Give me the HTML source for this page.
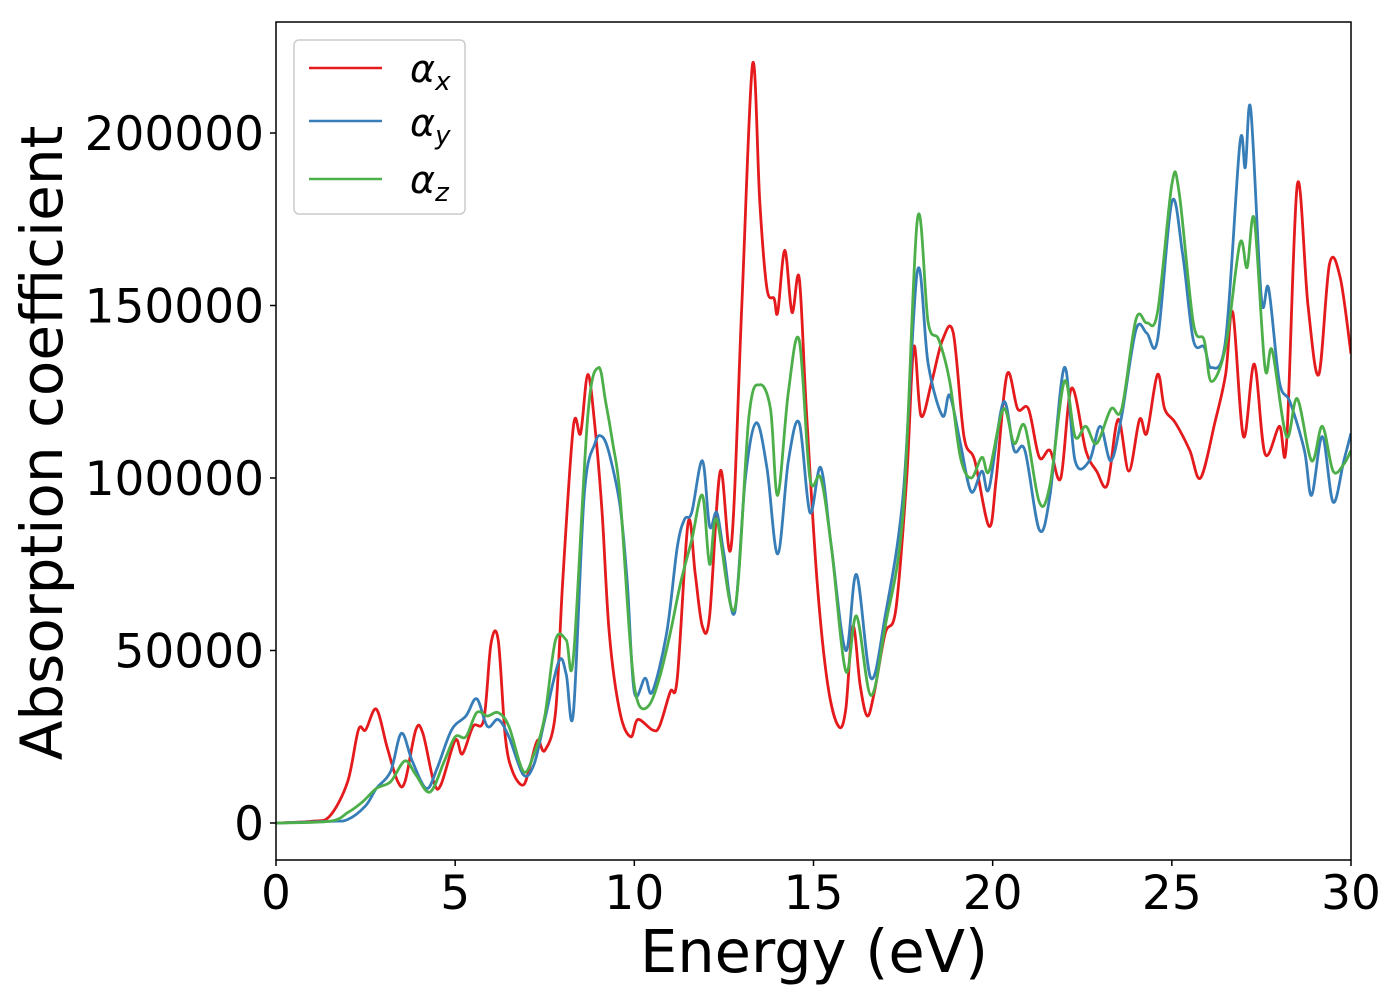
<!DOCTYPE html>
<html><head><meta charset="utf-8"><style>
html,body{margin:0;padding:0;background:#fff;}
svg text{font-family:"DejaVu Sans","Liberation Sans",sans-serif;}
</style></head><body>
<svg id="chart" width="1400" height="1000" xmlns="http://www.w3.org/2000/svg">
<rect width="1400" height="1000" fill="#fff"/>
<defs><clipPath id="clip"><rect x="276" y="22" width="1075" height="838"/></clipPath></defs>
<g id="series" clip-path="url(#clip)"></g>
<rect x="276" y="22" width="1075" height="838" fill="none" stroke="#000" stroke-width="1.5"/>
<g id="xticks"></g><g id="yticks"></g>
<text x="814" y="972" font-size="59" text-anchor="middle">Energy (eV)</text>
<text transform="translate(62,443) rotate(-90)" font-size="58" text-anchor="middle">Absorption coefficient</text>
<g>
<rect x="294" y="40" width="171" height="174" rx="5" fill="#fff" stroke="#ccc" stroke-width="1.5"/>
<line x1="309" y1="68" x2="382" y2="68" stroke="#e41a1c" stroke-width="2.5"/>
<line x1="309" y1="121" x2="382" y2="121" stroke="#377eb8" stroke-width="2.5"/>
<line x1="309" y1="179" x2="382" y2="179" stroke="#4daf4a" stroke-width="2.5"/>
<text x="410" y="82" font-size="38" font-style="italic">α<tspan font-size="26" dy="8">x</tspan></text>
<text x="410" y="136" font-size="38" font-style="italic">α<tspan font-size="26" dy="8">y</tspan></text>
<text x="410" y="193" font-size="38" font-style="italic">α<tspan font-size="26" dy="8">z</tspan></text>
</g>
</svg>
<script>
const xTickLabels=["0","5","10","15","20","25","30"];
const xTickValues=[0,5,10,15,20,25,30];
const yTickLabels=["0","50000","100000","150000","200000"];
const yTickValues=[0,50000,100000,150000,200000];
const energyX=[0,1,1.5,2,2.3,2.5,2.8,3.1,3.4,3.6,3.9,4.1,4.4,4.6,5,5.2,5.5,5.8,6,6.2,6.4,6.6,6.9,7.1,7.3,7.5,7.8,8,8.3,8.5,8.7,8.9,9.1,9.3,9.6,9.9,10.1,10.5,10.7,11,11.2,11.5,11.7,11.9,12.1,12.4,12.7,13,13.3,13.5,13.7,13.9,14,14.2,14.4,14.6,14.8,15.1,15.4,15.7,15.9,16.1,16.3,16.5,16.7,17,17.3,17.6,17.8,18,18.3,18.6,18.9,19.2,19.5,19.9,20.1,20.4,20.7,21,21.3,21.6,21.9,22.2,22.6,22.9,23.2,23.5,23.8,24.1,24.3,24.6,24.8,25.1,25.5,25.8,26.2,26.5,26.7,27,27.3,27.6,28,28.2,28.5,28.8,29.1,29.4,29.7,30];
const alphaX=[0,500,2000,12000,27000,27000,33000,22000,12000,12000,27000,26000,12000,11000,24000,20000,28000,30000,52000,53000,25000,15000,11000,17000,24000,21000,32000,70000,115000,113000,130000,115000,90000,55000,32000,25000,30000,27000,28000,38000,42000,87000,72000,57000,60000,102000,80000,150000,220000,180000,155000,152000,148000,166000,148000,158000,120000,70000,40000,28000,33000,57000,40000,31000,38000,55000,62000,100000,138000,118000,128000,140000,142000,112000,105000,86000,100000,130000,120000,120000,106000,108000,100000,126000,108000,102000,98000,117000,102000,117000,113000,130000,120000,116000,108000,100000,116000,130000,148000,112000,133000,107000,115000,110000,185000,150000,130000,162000,158000,136000];
const energyY=[0,1.5,2,2.5,2.8,3.2,3.5,3.8,4.2,4.5,4.9,5.3,5.6,5.9,6.2,6.5,6.9,7.2,7.5,7.9,8.1,8.3,8.6,8.9,9.1,9.3,9.6,9.8,10,10.3,10.5,10.9,11.2,11.4,11.6,11.9,12.1,12.3,12.5,12.8,13.1,13.4,13.7,14,14.3,14.6,14.9,15.2,15.5,15.9,16.2,16.6,17,17.5,17.9,18.2,18.6,18.8,19.1,19.4,19.7,19.9,20.3,20.6,20.9,21.3,21.6,22,22.3,22.7,23,23.3,23.6,24,24.3,24.6,25,25.3,25.6,25.9,26.1,26.5,26.9,27.05,27.2,27.5,27.7,28,28.3,28.7,28.9,29.2,29.5,29.8,30];
const alphaY=[0,500,1000,5000,10000,15000,26000,18000,10000,16000,27000,31000,36000,28000,30000,25000,14000,17000,30000,47000,43000,32000,95000,110000,112000,107000,92000,70000,38000,42000,38000,55000,80000,88000,90000,105000,86000,90000,78000,61000,100000,116000,103000,78000,105000,116000,90000,103000,80000,50000,72000,42000,60000,95000,160000,133000,118000,124000,110000,96000,102000,97000,122000,108000,108000,85000,95000,132000,105000,105000,115000,105000,118000,143000,142000,140000,180000,165000,140000,138000,132000,140000,197000,190000,207000,152000,155000,128000,122000,108000,95000,112000,93000,105000,113000];
const energyZ=[0,1.5,2,2.4,2.8,3.2,3.6,3.9,4.3,4.7,5,5.3,5.6,5.9,6.2,6.5,6.9,7.2,7.5,7.8,8.1,8.3,8.7,9,9.2,9.4,9.6,9.9,10.1,10.4,10.7,11,11.3,11.6,11.9,12.1,12.3,12.8,13.2,13.5,13.8,14,14.3,14.6,14.9,15.2,15.5,15.9,16.2,16.6,17,17.5,17.9,18.2,18.5,18.8,19.1,19.4,19.7,19.9,20.3,20.6,20.9,21.3,21.6,22,22.3,22.6,22.9,23.3,23.6,24,24.3,24.6,25,25.2,25.6,25.9,26.1,26.5,26.9,27.1,27.3,27.6,27.8,28.2,28.5,28.9,29.2,29.5,29.8,30];
const alphaZ=[0,500,3000,6000,10000,12000,18000,14000,9000,18000,25000,25000,32000,31000,32000,28000,15000,20000,31000,53000,53000,48000,118000,132000,122000,110000,95000,50000,35000,34000,42000,55000,70000,82000,95000,75000,88000,62000,118000,127000,120000,95000,125000,140000,100000,100000,80000,44000,60000,37000,57000,90000,175000,145000,140000,128000,106000,100000,106000,102000,120000,110000,115000,93000,98000,128000,112000,115000,110000,120000,120000,146000,145000,148000,185000,183000,145000,140000,128000,138000,168000,161000,175000,132000,137000,112000,123000,105000,115000,102000,104000,108000];

const X0=276,X1=1351,Ypix0=823,Ypix200=133;
const xScale=v=>X0+(v/30)*(X1-X0);
const yScale=v=>Ypix0+(v/200000)*(Ypix200-Ypix0);
const NS="http://www.w3.org/2000/svg";
function smoothPath(xs,ys){
  const p=xs.map((x,i)=>[xScale(x),yScale(ys[i])]);
  let d="M"+p[0][0].toFixed(1)+","+p[0][1].toFixed(1);
  for(let i=0;i<p.length-1;i++){
    const a=p[i-1]||p[i],b=p[i],c=p[i+1],e=p[i+2]||c;
    const c1=[b[0]+(c[0]-a[0])/6,b[1]+(c[1]-a[1])/6];
    const c2=[c[0]-(e[0]-b[0])/6,c[1]-(e[1]-b[1])/6];
    d+=" C"+c1[0].toFixed(1)+","+c1[1].toFixed(1)+" "+c2[0].toFixed(1)+","+c2[1].toFixed(1)+" "+c[0].toFixed(1)+","+c[1].toFixed(1);
  }
  return d;
}
const g=document.getElementById("series");
function addLine(xs,ys,color,name){
  const el=document.createElementNS(NS,"path");
  el.setAttribute("d",smoothPath(xs,ys));
  el.setAttribute("fill","none");
  el.setAttribute("stroke",color);
  el.setAttribute("stroke-width","2.8");
  
  
  g.appendChild(el);
}
addLine(energyX,alphaX,"#e41a1c","series-alpha-x");
addLine(energyY,alphaY,"#377eb8","series-alpha-y");
addLine(energyZ,alphaZ,"#4daf4a","series-alpha-z");

const xt=document.getElementById("xticks");
xTickValues.forEach((v,i)=>{
  const x=xScale(v);
  const l=document.createElementNS(NS,"line");
  l.setAttribute("x1",x);l.setAttribute("x2",x);l.setAttribute("y1",860);l.setAttribute("y2",866);
  l.setAttribute("stroke","#000");l.setAttribute("stroke-width","1.5");
  
  
  xt.appendChild(l);
  const t=document.createElementNS(NS,"text");
  t.setAttribute("x",x);t.setAttribute("y",909);t.setAttribute("font-size","47");t.setAttribute("text-anchor","middle");
  t.textContent=xTickLabels[i];
  
  
  xt.appendChild(t);
});
const yt=document.getElementById("yticks");
yTickValues.forEach((v,i)=>{
  const y=yScale(v);
  const l=document.createElementNS(NS,"line");
  l.setAttribute("x1",270);l.setAttribute("x2",276);l.setAttribute("y1",y);l.setAttribute("y2",y);
  l.setAttribute("stroke","#000");l.setAttribute("stroke-width","1.5");
  
  
  yt.appendChild(l);
  const t=document.createElementNS(NS,"text");
  t.setAttribute("x",264);t.setAttribute("y",y+17);t.setAttribute("font-size","47");t.setAttribute("text-anchor","end");
  t.textContent=yTickLabels[i];
  
  
  yt.appendChild(t);
});
</script>
</body></html>
